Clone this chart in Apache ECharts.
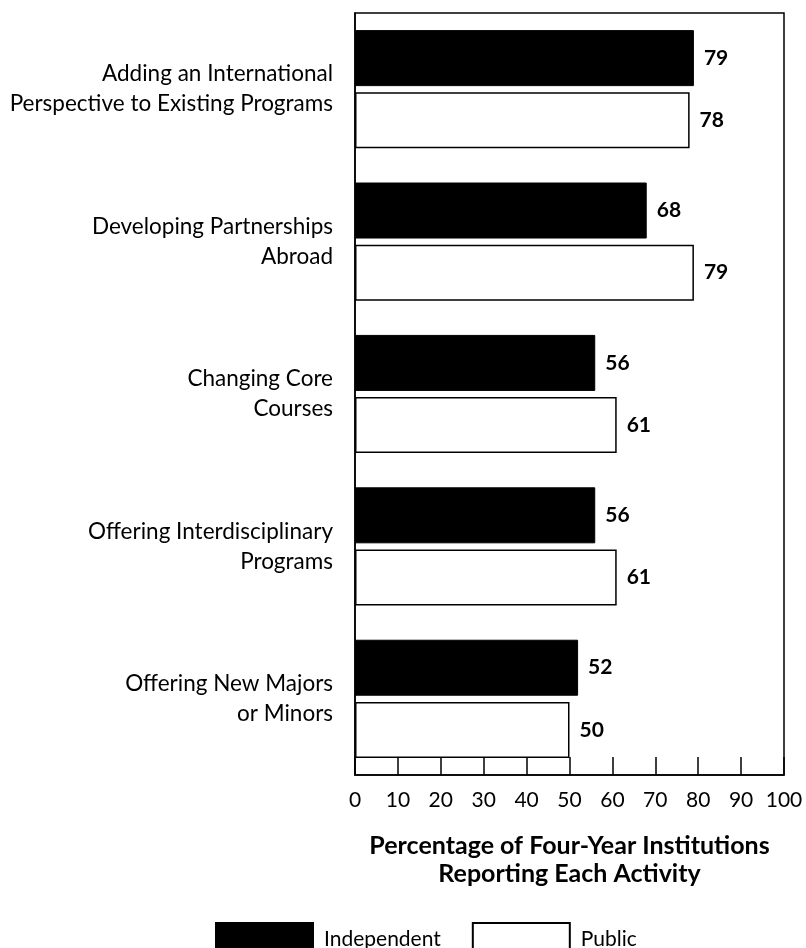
<!DOCTYPE html>
<html>
<head>
<meta charset="utf-8">
<script src="https://cdn.jsdelivr.net/npm/echarts@6/dist/echarts.min.js"></script>
<style>
html,body{margin:0;padding:0;background:#fff;}
#main{width:806px;height:948px;}
</style>
</head>
<body>
<div id="main"></div>
<script>
const categories = [
  "Adding an International\nPerspective to Existing Programs",
  "Developing Partnerships\nAbroad",
  "Changing Core\nCourses",
  "Offering Interdisciplinary\nPrograms",
  "Offering New Majors\nor Minors"
];
const independentValues = [79, 68, 56, 56, 52];
const publicValues = [78, 79, 61, 61, 50];
const seriesNames = ["Independent", "Public"];
const axisTitle = "Percentage of Four-Year Institutions\nReporting Each Activity";

const FONT = "Lato";
const chart = echarts.init(document.getElementById('main'), null, {renderer: 'canvas'});
const valueLabel = {
  show: true, position: 'right', distance: 10,
  fontFamily: FONT, fontWeight: 'bold', fontSize: 21, color: '#000'
};
chart.setOption({
  animation: false,
  backgroundColor: '#fff',
  textStyle: {fontFamily: FONT, color: '#000'},
  grid: {left: 355, right: 22, top: 13, bottom: 173, show: true, borderColor: '#000', borderWidth: 1.5},
  legend: {
    left: 210, top: 917, itemWidth: 97, itemHeight: 32, itemGap: 31,
    icon: 'rect',
    textStyle: {fontFamily: FONT, fontSize: 21, color: '#000', padding: [0, 0, 0, 6]},
    data: seriesNames
  },
  xAxis: {
    type: 'value', min: 0, max: 100, interval: 10,
    axisLine: {show: true, lineStyle: {color: '#000', width: 1.5}},
    axisTick: {show: true, inside: true, length: 18, lineStyle: {color: '#000', width: 1.5}},
    splitLine: {show: false},
    axisLabel: {fontFamily: FONT, fontSize: 21, color: '#000', margin: 15},
    name: axisTitle, nameLocation: 'middle', nameGap: 57,
    nameTextStyle: {fontFamily: FONT, fontWeight: 'bold', fontSize: 25, lineHeight: 28, color: '#000'}
  },
  yAxis: {
    type: 'category', inverse: true, data: categories,
    axisLine: {show: true, lineStyle: {color: '#000', width: 1.5}},
    axisTick: {show: false},
    axisLabel: {fontFamily: FONT, fontSize: 22.5, lineHeight: 30, color: '#000', align: 'right', margin: 22}
  },
  series: [
    {
      name: seriesNames[0], type: 'bar', data: independentValues,
      barWidth: 56, barGap: '11%',
      itemStyle: {color: '#000', borderColor: '#000', borderWidth: 1},
      label: valueLabel
    },
    {
      name: seriesNames[1], type: 'bar', data: publicValues,
      barWidth: 56,
      itemStyle: {color: '#fff', borderColor: '#000', borderWidth: 1.5},
      label: valueLabel
    }
  ]
});
</script>
</body>
</html>
